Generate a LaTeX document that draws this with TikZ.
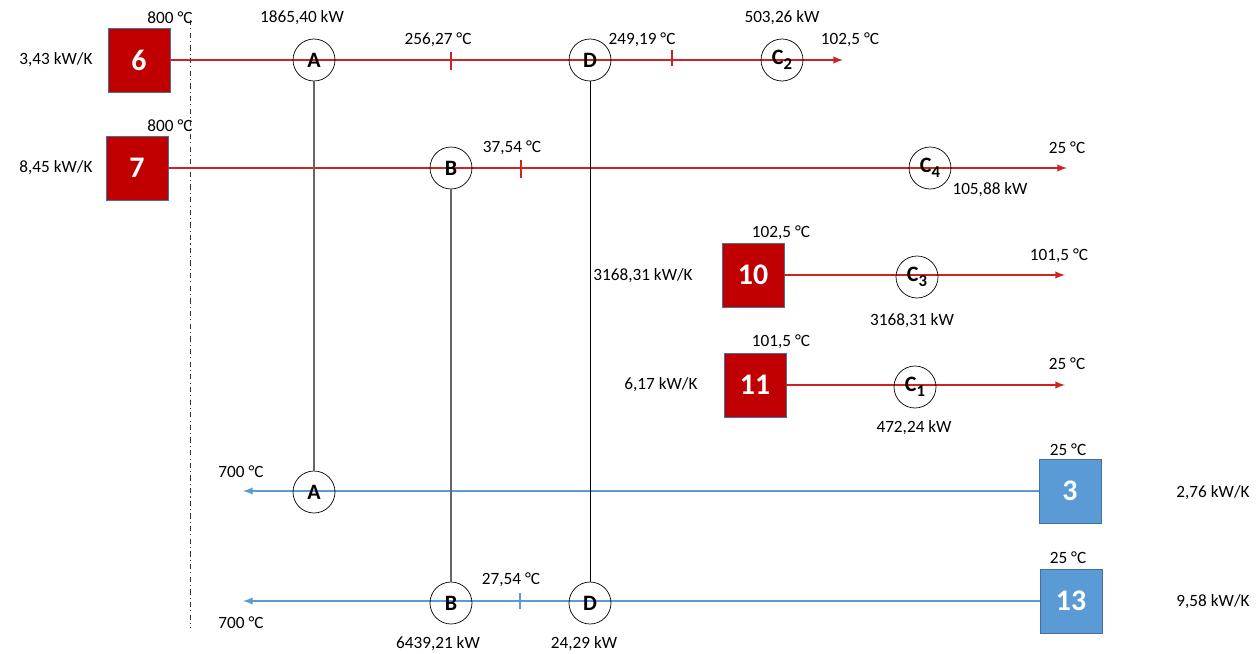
\documentclass[tikz,border=0pt]{standalone}
\usepackage{fontspec}
\setmainfont{Carlito}
\usepackage{tikz}
\usetikzlibrary{arrows}
\definecolor{heiss}{RGB}{192,0,0}
\definecolor{kalt}{RGB}{91,155,213}
\definecolor{rand}{RGB}{65,113,156}
\definecolor{rotlinie}{RGB}{205,35,35}
\definecolor{blaulinie}{RGB}{91,155,213}
\tikzstyle{hline} = [draw=rotlinie, line width=0.9pt, ->]
\tikzstyle{cline} = [draw=blaulinie, line width=0.9pt, ->]
\newcommand{\idx}[1]{\raisebox{-0.45ex}{\fontsize{9.5}{10}\selectfont #1}}

\begin{document}
\begin{tikzpicture}[x=0.02cm, y=-0.02cm, >=latex, %Pixelraster
	font=\fontsize{9.8}{11}\selectfont,
	hot/.style={draw=rand, fill=heiss, minimum width=1.24cm, minimum height=1.28cm, inner sep=0pt, text=white, font=\fontsize{17}{20}\selectfont\bfseries},
	cold/.style={hot, fill=kalt},
	hx/.style={draw, circle, minimum size=0.84cm, inner sep=0pt, font=\fontsize{12.5}{14}\selectfont\bfseries}]
	\useasboundingbox (0,0) rectangle (1257,653);
	%Pinch
	\draw[line width=0.4pt, black!80, dash pattern=on 3pt off 1.8pt on 0.6pt off 1.8pt] (190,20) -- (190,628);
	%Stroeme
	\node[hot] (s6) at (139,60) {6};
	\node[hot] (s7) at (137,168) {7};
	\node[hot] (s10) at (753,275) {10};
	\node[hot] (s11) at (755,385) {11};
	\node[cold] (s3) at (1070,491) {3};
	\node[cold] (s13) at (1071,601) {13};
	\coordinate (e6) at (843,60);
	\coordinate (e7) at (1067,168);
	\coordinate (e10) at (1065,275);
	\coordinate (e11) at (1065,385);
	\coordinate (e3) at (243,491);
	\coordinate (e13) at (243,601);
	\draw[hline] (s6) -- (e6);
	\draw[hline] (s7) -- (e7);
	\draw[hline] (s10) -- (e10);
	\draw[hline] (s11) -- (e11);
	\draw[cline] (s3) -- (e3);
	\draw[cline] (s13) -- (e13);
	%Waermetauscher
	\node[hx] (a6) at (314,60) {A};
	\node[hx] (d6) at (590,60) {D};
	\node[hx] (c2) at (782,60) {C\idx{2}};
	\node[hx] (b7) at (451,168) {B};
	\node[hx] (c4) at (930,168) {C\idx{4}};
	\node[hx] (c3) at (917,277) {C\idx{3}};
	\node[hx] (c1) at (915,387) {C\idx{1}};
	\node[hx] (a3) at (314,492) {A};
	\node[hx] (b13) at (451,603) {B};
	\node[hx] (d13) at (590,603) {D};
	\draw[black!60, line width=0.7pt] (a6) -- (a3);
	\draw[black!60, line width=0.7pt] (b7) -- (b13);
	\draw[black, line width=0.45pt] (d6) -- (d13);
	%Temperaturmarken
	\draw[rotlinie, line width=0.6pt] (451,52) -- (451,70);
	\draw[rotlinie, line width=0.6pt] (672,50) -- (672,66);
	\draw[rotlinie, line width=0.6pt] (521,160) -- (521,178);
	\draw[blaulinie, line width=0.6pt] (520,593) -- (520,609);
	\begin{scope}
		\node (k6) at (56,60) {3,43 kW/K};
		\node (k7) at (56,168) {8,45 kW/K};
		\node (k10) at (643,276) {3168,31 kW/K};
		\node (k11) at (661,385) {6,17 kW/K};
		\node (k3) at (1213,493) {2,76 kW/K};
		\node (k13) at (1213,602) {9,58 kW/K};
		\node (t6) at (170,18) {800 °C};
		\node (t7) at (170,126) {800 °C};
		\node (t10) at (781,233) {102,5 °C};
		\node (t11) at (781,342) {101,5 °C};
		\node (t3) at (1068,450) {25 °C};
		\node (t13) at (1068,558) {25 °C};
		\node (te6) at (850,40) {102,5 °C};
		\node (te7) at (1067,148) {25 °C};
		\node (te10) at (1059,256) {101,5 °C};
		\node (te11) at (1067,364) {25 °C};
		\node (te3) at (241,472) {700 °C};
		\node (te13) at (241,623) {700 °C};
		\node (m1) at (438,40) {256,27 °C};
		\node (m2) at (642,40) {249,19 °C};
		\node (m3) at (512,148) {37,54 °C};
		\node (m4) at (511,580) {27,54 °C};
		\node (qa) at (302,18) {1865,40 kW};
		\node (qc2) at (782,18) {503,26 kW};
		\node (qc4) at (990,190) {105,88 kW};
		\node (qc3) at (912,321) {3168,31 kW};
		\node (qc1) at (914,428) {472,24 kW};
		\node (qb) at (438,644) {6439,21 kW};
		\node (qd) at (584,644) {24,29 kW};
	\end{scope}
\end{tikzpicture}
\end{document}
